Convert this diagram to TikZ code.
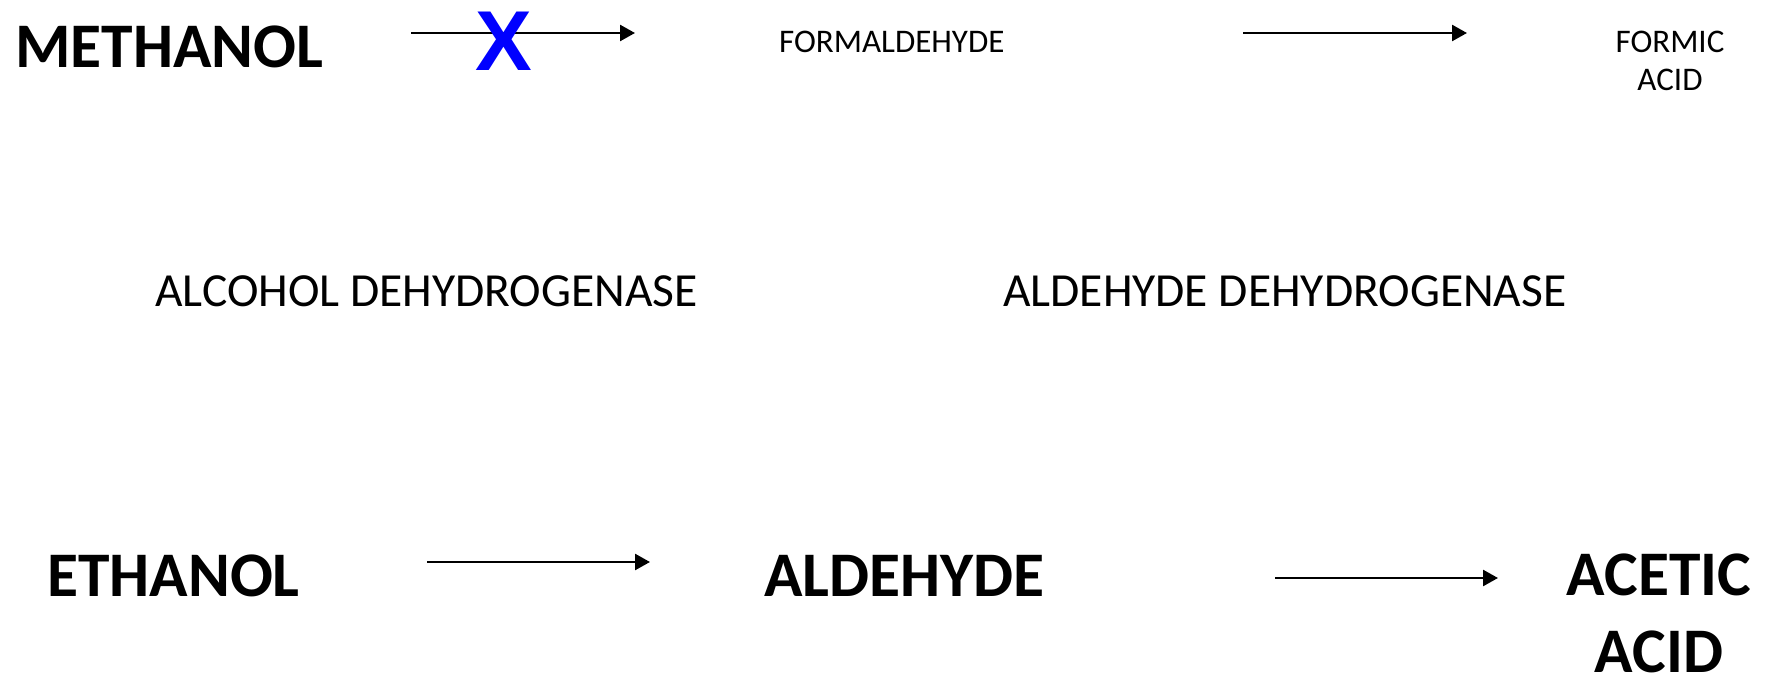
\documentclass[tikz,border=0pt]{standalone}
\usepackage{fontspec}
\setmainfont{Carlito}
\newfontfamily\xfont{Liberation Sans}
\usetikzlibrary{arrows.meta}
\tikzset{
  big/.style={inner sep=0pt, anchor=base west, font=\bfseries\fontsize{63.5}{76}\selectfont},
  bigc/.style={inner sep=0pt, anchor=base, align=center, font=\bfseries\fontsize{63.5}{77}\selectfont},
  small/.style={inner sep=0pt, anchor=base west, font=\fontsize{33}{38}\selectfont},
  smallc/.style={inner sep=0pt, anchor=base, align=center, font=\fontsize{33}{38}\selectfont},
  enz/.style={inner sep=0pt, anchor=base west, font=\fontsize{47.5}{57}\selectfont},
  arr/.style={line width=2.6pt, -{Triangle[length=15pt,width=16pt]}},
}
\begin{document}
\begin{tikzpicture}[x=1pt,y=-1pt]
\useasboundingbox (0,0) rectangle (1773,676);
% top row
\node[big] (methanol) at (15,68) {METHANOL};
\node[small] (formald) at (779,53) {FORMALDEHYDE};
\node[smallc] (formic) at (1670,91) {FORMIC\\ACID};
\coordinate (a1s) at (411,33);
\coordinate (a1e) at (635,33);
\draw[arr] (a1s) -- (a1e);
\coordinate (a2s) at (1243,33);
\coordinate (a2e) at (1467,33);
\draw[arr] (a2s) -- (a2e);
\node[inner sep=0pt, text=blue, font=\xfont\bfseries\fontsize{85}{90}\selectfont] (cross) at (504,41.5) {X};
% enzymes
\node[enz] (adh) at (155,307) {ALCOHOL DEHYDROGENASE};
\node[enz] (aldh) at (1003,307) {ALDEHYDE DEHYDROGENASE};
% bottom row
\node[big] (ethanol) at (47,596) {ETHANOL};
\node[big] (aldehyde) at (764,596) {ALDEHYDE};
\node[bigc] (acetic) at (1659,672) {ACETIC\\ACID};
\coordinate (a3s) at (427,562);
\coordinate (a3e) at (650,562);
\draw[arr] (a3s) -- (a3e);
\coordinate (a4s) at (1275,578);
\coordinate (a4e) at (1498,578);
\draw[arr] (a4s) -- (a4e);
\end{tikzpicture}
\end{document}
